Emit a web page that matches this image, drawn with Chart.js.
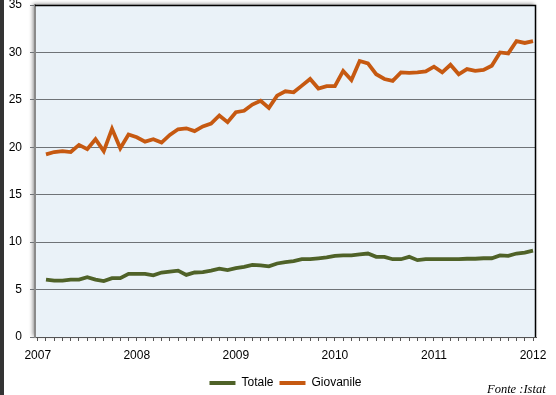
<!DOCTYPE html>
<html>
<head>
<meta charset="utf-8">
<script src="https://cdn.jsdelivr.net/npm/chart.js@4.4.1/dist/chart.umd.min.js"></script>
<style>
  html, body { margin: 0; padding: 0; background: #ffffff; }
  #wrap { position: relative; width: 556px; height: 395px; overflow: hidden; }
  #strip { position: absolute; left: 0; top: 0; width: 4px; height: 395px; background: #333333; }
  #src { position: absolute; left: 487px; top: 383px; font: italic 12.5px "Liberation Serif", serif; line-height: 1; color: #000; white-space: nowrap; }
  canvas { position: absolute; left: 0; top: 0; }
</style>
</head>
<body>
<div id="wrap">
  <canvas id="c" width="556" height="395"></canvas>
  <div id="strip"></div>
  <div id="src">Fonte :Istat</div>
</div>
<script>
// ---- data ----
const years = ['2007', '2008', '2009', '2010', '2011', '2012'];
const monthNames = ['gen', 'feb', 'mar', 'apr', 'mag', 'giu', 'lug', 'ago', 'set', 'ott', 'nov', 'dic'];
const months = [];
for (let y = 0; y < 5; y++) for (let m = 0; m < 12; m++) months.push(monthNames[m] + ' ' + years[y]);

const totale = [
  6.05, 5.95, 5.95, 6.05, 6.05, 6.3, 6.05, 5.9, 6.2, 6.2, 6.65, 6.65,
  6.65, 6.5, 6.8, 6.9, 7.0, 6.55, 6.8, 6.85, 7.0, 7.2, 7.05, 7.25,
  7.4, 7.6, 7.55, 7.45, 7.75, 7.9, 8.0, 8.2, 8.2, 8.3, 8.4, 8.55,
  8.6, 8.6, 8.7, 8.8, 8.45, 8.45, 8.2, 8.2, 8.45, 8.1, 8.2, 8.2,
  8.2, 8.2, 8.2, 8.25, 8.25, 8.3, 8.3, 8.6, 8.55, 8.8, 8.9, 9.1
];
const giovanile = [
  19.25, 19.5, 19.6, 19.5, 20.25, 19.8, 20.85, 19.6, 21.95, 19.9, 21.35, 21.05,
  20.6, 20.85, 20.5, 21.3, 21.9, 22.0, 21.7, 22.2, 22.5, 23.35, 22.65, 23.7,
  23.85, 24.5, 24.9, 24.15, 25.45, 25.9, 25.8, 26.5, 27.2, 26.2, 26.45, 26.45,
  28.05, 27.1, 29.1, 28.85, 27.7, 27.2, 27.0, 27.9, 27.85, 27.9, 28.0, 28.5,
  27.9, 28.7, 27.7, 28.25, 28.05, 28.15, 28.6, 30.0, 29.9, 31.2, 31.0, 31.2
];
const yTicks = [0, 5, 10, 15, 20, 25, 30, 35];

const GREEN = '#4f6228';
const ORANGE = '#c65911';

// month position: each monthly value sits at the end of its month slot
const toPoints = arr => arr.map((v, i) => ({ x: i + 1, y: v, label: months[i] }));

const framePlugin = {
  id: 'frame',
  beforeDraw(chart) {
    const { ctx, chartArea: a } = chart;
    ctx.save();
    ctx.shadowColor = 'rgba(0,0,0,0.45)';
    ctx.shadowBlur = 4;
    ctx.shadowOffsetX = -2;
    ctx.shadowOffsetY = -1;
    ctx.fillStyle = '#eaf2f8';
    ctx.fillRect(a.left, a.top, a.right - a.left, a.bottom - a.top);
    ctx.restore();
  },
  beforeDatasetsDraw(chart) {
    const { ctx, chartArea: a } = chart;
    ctx.save();
    ctx.strokeStyle = '#000000';
    ctx.lineWidth = 1.5;
    ctx.beginPath();
    ctx.moveTo(a.left, a.top + 0.5);
    ctx.lineTo(a.right - 0.5, a.top + 0.5);
    ctx.lineTo(a.right - 0.5, a.bottom);
    ctx.stroke();
    ctx.restore();
  }
};

new Chart(document.getElementById('c'), {
  type: 'line',
  data: {
    datasets: [
      { label: 'Totale', data: toPoints(totale), borderColor: GREEN, backgroundColor: GREEN, borderWidth: 3.8, pointRadius: 0, tension: 0 },
      { label: 'Giovanile', data: toPoints(giovanile), borderColor: ORANGE, backgroundColor: ORANGE, borderWidth: 3.8, pointRadius: 0, tension: 0 }
    ]
  },
  plugins: [framePlugin],
  options: {
    responsive: false,
    animation: false,
    layout: { padding: { left: 0, right: 20, top: 5, bottom: 0 } },
    plugins: {
      tooltip: { enabled: false },
      legend: {
        position: 'bottom',
        fullSize: false,
        maxHeight: 24,
        labels: {
          font: { family: '"Liberation Sans", Arial, sans-serif', size: 12 },
          color: '#000000',
          boxWidth: 26,
          boxHeight: 4,
          padding: 6,
          generateLabels(chart) {
            return chart.data.datasets.map((d, i) => ({
              text: d.label, fillStyle: d.borderColor, strokeStyle: d.borderColor,
              lineWidth: 0, hidden: false, datasetIndex: i, fontColor: '#000000'
            }));
          }
        }
      }
    },
    scales: {
      x: {
        type: 'linear',
        min: -0.33,
        max: 60.36,
        afterBuildTicks(axis) {
          const t = [];
          for (let m = 0; m <= 60; m++) t.push({ value: m });
          axis.ticks = t;
        },
        afterFit(axis) { axis.height = 34; },
        ticks: {
          autoSkip: false,
          maxRotation: 0,
          padding: 7,
          color: '#000000',
          font: { family: '"Liberation Sans", Arial, sans-serif', size: 12 },
          callback: v => (v % 12 === 0 ? years[v / 12] : '')
        },
        grid: { drawOnChartArea: false, drawTicks: true, tickLength: 4, color: '#555555', lineWidth: 1 },
        border: { color: '#555555', width: 1 }
      },
      y: {
        min: 0,
        max: 35,
        afterBuildTicks(axis) { axis.ticks = yTicks.map(v => ({ value: v })); },
        afterFit(axis) { axis.width = 35; axis.paddingTop = 0; axis.paddingBottom = 0; },
        ticks: {
          padding: 8,
          color: '#000000',
          font: { family: '"Liberation Sans", Arial, sans-serif', size: 12 }
        },
        grid: { color: '#6f7377', lineWidth: 1, tickLength: 5 },
        border: { color: '#8a8a8a', width: 2 }
      }
    }
  }
});
</script>
</body>
</html>
